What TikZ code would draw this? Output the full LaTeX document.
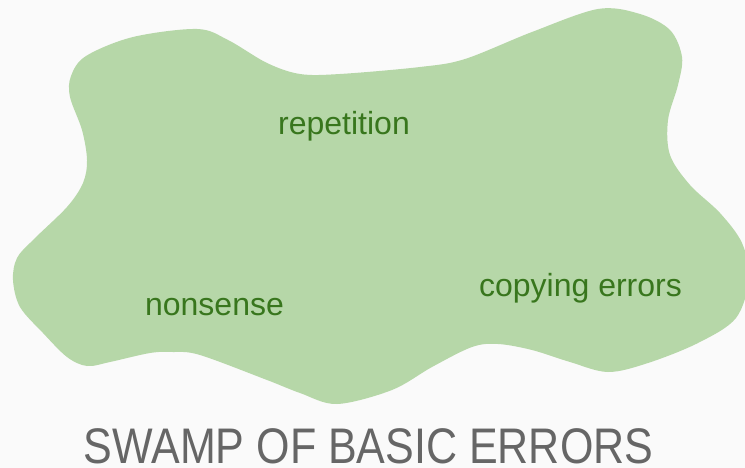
\documentclass[tikz,border=0pt]{standalone}
\usepackage{fontspec}
\setmainfont{Liberation Sans}
\definecolor{bgc}{HTML}{FAFAFA}
\definecolor{swamp}{HTML}{B6D7A8}
\definecolor{swamptext}{HTML}{38761D}
\definecolor{titlec}{HTML}{666666}
\tikzset{
  item/.style={anchor=base, text=swamptext, inner sep=0pt, font=\fontsize{32}{38}\selectfont},
  titlestyle/.style={anchor=base, text=titlec, inner sep=0pt, font=\fontsize{50}{60}\selectfont}
}
\begin{document}
\begin{tikzpicture}[x=1pt,y=-1pt]
\useasboundingbox (0,0) rectangle (745,468);
\fill[bgc] (0,0) rectangle (745,468);
\begin{scope}
\clip (0,0) rectangle (745,468);
\fill[swamp] plot[smooth cycle, tension=0.55] coordinates {
(70,97) (71,76) (86,56) (133,37) (197,29) (228,40) (267,63) (300,74) (340,74) (420,67) (465,59)
(532,32) (598,9) (640,14) (670,30) (682,57) (678,85) (668,120) (670,155) (690,185)
(720,213) (742,243) (749,278) (736,318) (698,343) (648,363) (608,372) (570,362)
(532,350) (498,344) (472,347) (432,367) (392,390) (337,404) (300,393) (267,380)
(200,355) (173,352) (150,353) (110,362) (87,366) (67,357) (43,333) (20,307) (13,280)
(17,258) (33,240) (67,207) (83,183) (87,160) (82,130)};
\end{scope}
\node[item] (rep) at (344,135) {repetition};
\node[item] (non) at (214.5,315) {nonsense};
\node[item] (cop) at (580.5,296) {copying errors};
\node[titlestyle] (title) at (368.5,463.5) {\scalebox{0.86}[1]{SWAMP OF BASIC ERRORS}};
\end{tikzpicture}
\end{document}
